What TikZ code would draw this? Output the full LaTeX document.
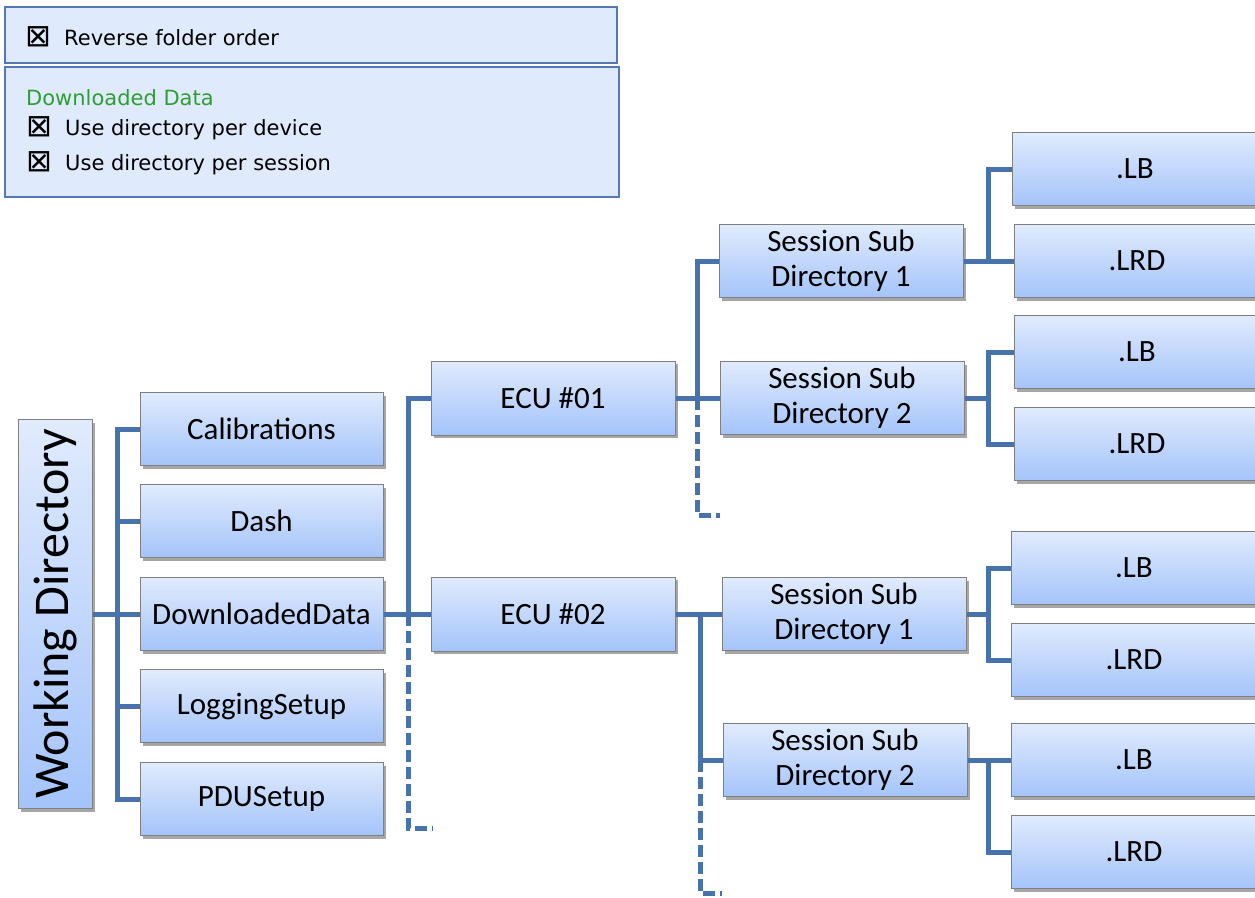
\documentclass[tikz,border=0pt]{standalone}
\usepackage{fontspec}
\setmainfont{Carlito}
\newfontfamily\uifont{DejaVu Sans}
\usetikzlibrary{shadows}
\definecolor{boxtop}{RGB}{224,235,253}
\definecolor{boxbot}{RGB}{164,196,250}
\definecolor{boxborder}{RGB}{128,128,128}
\definecolor{linkc}{RGB}{72,114,172}
\definecolor{panelfill}{RGB}{223,235,252}
\definecolor{panelborder}{RGB}{84,120,180}
\definecolor{greentxt}{RGB}{46,158,52}
\newcommand{\chkbox}{\makebox[39pt][l]{\raisebox{-1pt}{\fontsize{31}{25}\selectfont ⊠}}}
\tikzset{
  box/.style={draw=boxborder, line width=1pt, top color=boxtop, bottom color=boxbot,
    minimum width=243pt, minimum height=73pt, inner sep=0pt, align=center,
    font=\fontsize{31}{35}\selectfont,
    drop shadow={shadow xshift=3pt, shadow yshift=-3pt, fill=black, opacity=0.35}},
  link/.style={draw=linkc, line width=5pt},
  dlink/.style={draw=linkc, line width=5pt, dash pattern=on 12pt off 5pt},
  panel/.style={draw=panelborder, line width=2.5pt, fill=panelfill, inner sep=0pt},
  uitext/.style={anchor=west, inner sep=0pt, font=\uifont\fontsize{21}{25}\selectfont}
}
\begin{document}
\begin{tikzpicture}[x=1pt,y=-1pt]
\useasboundingbox (0,0) rectangle (1255,897);
\fill[white] (0,0) rectangle (1255,897);
\clip (0,0) rectangle (1255,897);

% settings panels
\node[panel, minimum width=612pt, minimum height=56pt] (p1) at (311,35) {};
\node[panel, minimum width=614pt, minimum height=130pt] (p2) at (312,132) {};
\node[uitext] (t1) at (25,37) {\chkbox Reverse folder order};
\node[uitext, text=greentxt] (t2) at (26,98) {Downloaded Data};
\node[uitext] (t3) at (26,128) {\chkbox Use directory per device};
\node[uitext] (t4) at (26,163) {\chkbox Use directory per session};

% root
\node[box, minimum width=74pt, minimum height=389pt] (wd) at (55,614)
  {\rotatebox{90}{\fontsize{50}{50}\selectfont Working Directory}};

% level 1
\node[box] (cal) at (261.5,429) {Calibrations};
\node[box] (dash) at (261.5,521) {Dash};
\node[box] (dd) at (261.5,614) {DownloadedData};
\node[box] (log) at (261.5,706) {LoggingSetup};
\node[box] (pdu) at (261.5,799) {PDUSetup};

% level 2
\node[box, minimum width=244pt, minimum height=74pt] (ecu1) at (553,398) {ECU \#01};
\node[box, minimum width=244pt, minimum height=74pt] (ecu2) at (553,614) {ECU \#02};

% level 3
\node[box, minimum width=244pt] (s11) at (841,261) {Session Sub\\Directory 1};
\node[box, minimum width=244pt] (s12) at (842,398) {Session Sub\\Directory 2};
\node[box, minimum width=244pt] (s21) at (844,614) {Session Sub\\Directory 1};
\node[box, minimum width=244pt] (s22) at (845,760) {Session Sub\\Directory 2};

% level 4
\node[box, minimum width=246pt] (lb1) at (1135,169) {.LB};
\node[box, minimum width=246pt] (lrd1) at (1137,261) {.LRD};
\node[box, minimum width=246pt] (lb2) at (1137,352) {.LB};
\node[box, minimum width=246pt] (lrd2) at (1137,444) {.LRD};
\node[box, minimum width=246pt] (lb3) at (1134,568) {.LB};
\node[box, minimum width=246pt] (lrd3) at (1134,660) {.LRD};
\node[box, minimum width=246pt] (lb4) at (1134,760) {.LB};
\node[box, minimum width=246pt] (lrd4) at (1134,852) {.LRD};

% bus coordinates
\coordinate (b1) at (117,0);
\coordinate (b2) at (408,0);
\coordinate (b3) at (697,0);
\coordinate (b4) at (700,0);
\coordinate (b5) at (988,0);
\coordinate (d2) at (433,828);
\coordinate (d3) at (720,515);
\coordinate (d4) at (722,893);

% root connectors
\draw[link] (wd.east) -- (dd.west);
\draw[link] (cal.west) -- (cal.west -| b1) -- (pdu.west -| b1) -- (pdu.west);
\draw[link] (dash.west) -- (dash.west -| b1);
\draw[link] (log.west) -- (log.west -| b1);

% DownloadedData -> ECUs
\draw[link] (dd.east) -- (ecu2.west);
\draw[link] (ecu1.west) -- (ecu1.west -| b2) -- (ecu2.west -| b2);
\draw[dlink] (ecu2.west -| b2) |- (d2);

% ECU #01 -> sessions
\draw[link] (ecu1.east) -- (s12.west);
\draw[link] (s11.west) -- (s11.west -| b3) -- (ecu1.east -| b3);
\draw[dlink] (ecu1.east -| b3) |- (d3);

% ECU #02 -> sessions
\draw[link] (ecu2.east) -- (s21.west);
\draw[link] (ecu2.east -| b4) -- (s22.west -| b4) -- (s22.west);
\draw[dlink] (s22.west -| b4) |- (d4);

% sessions -> files
\draw[link] (s11.east) -- (lrd1.west);
\draw[link] (lb1.west) -- (lb1.west -| b5) -- (lrd1.west -| b5);

\draw[link] (s12.east) -- (s12.east -| b5);
\draw[link] (lb2.west) -- (lb2.west -| b5) -- (lrd2.west -| b5) -- (lrd2.west);

\draw[link] (s21.east) -- (s21.east -| b5);
\draw[link] (lb3.west) -- (lb3.west -| b5) -- (lrd3.west -| b5) -- (lrd3.west);

\draw[link] (s22.east) -- (lb4.west);
\draw[link] (lb4.west -| b5) -- (lrd4.west -| b5) -- (lrd4.west);
\end{tikzpicture}
\end{document}
